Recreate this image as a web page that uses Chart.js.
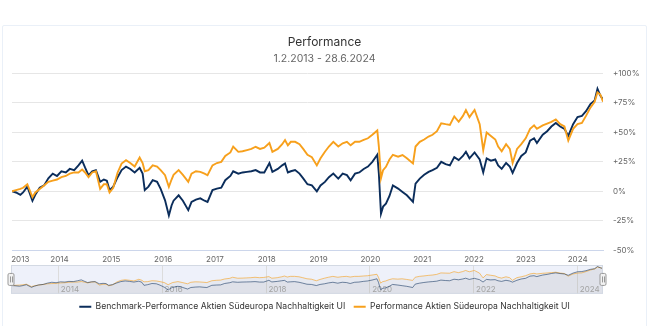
<!DOCTYPE html>
<html>
<head>
<meta charset="utf-8">
<script src="https://cdn.jsdelivr.net/npm/chart.js@4"></script>
<style>
  html, body { margin: 0; padding: 0; background: #fff; }
  body { width: 649px; height: 326px; position: relative; overflow: hidden; font-family: Inter, sans-serif; }
  .card { position: absolute; left: 2px; top: 25px; width: 643px; height: 320px; border: 1.5px solid #eaf0f8; border-radius: 2px; }
  #main { position: absolute; left: 0; top: 24px; }
  #nav { position: absolute; left: 0; top: 262px; }
</style>
</head>
<body>
<div class="card"></div>
<canvas id="main" width="649" height="241"></canvas>
<canvas id="nav" width="649" height="59"></canvas>
<script>
const titleText = 'Performance';
const subtitleText = '1.2.2013 - 28.6.2024';
const benchLabel = 'Benchmark-Performance Aktien Südeuropa Nachhaltigkeit UI';
const fundLabel = 'Performance Aktien Südeuropa Nachhaltigkeit UI';

const dates = [
  '2013-02-01','2013-03-01','2013-04-01','2013-04-20','2013-05-20','2013-06-25','2013-07-15','2013-08-15','2013-09-15','2013-10-15','2013-11-15','2013-12-15',
  '2014-01-15','2014-02-15','2014-03-15','2014-04-15','2014-05-15','2014-06-10','2014-07-01','2014-07-25','2014-08-20','2014-09-15','2014-10-15','2014-11-10','2014-12-01','2014-12-20',
  '2015-01-15','2015-02-15','2015-03-15','2015-04-15','2015-05-15','2015-06-15','2015-07-20','2015-08-10','2015-08-25','2015-09-20','2015-10-20','2015-11-20','2015-12-15',
  '2016-01-15','2016-02-11','2016-03-01','2016-03-15','2016-04-20','2016-05-20','2016-06-27','2016-07-20','2016-08-20','2016-09-20','2016-10-20','2016-11-10','2016-12-15',
  '2017-01-15','2017-02-15','2017-03-15','2017-04-20','2017-05-10','2017-06-15','2017-07-15','2017-08-15','2017-09-15','2017-10-15','2017-11-15','2017-12-15',
  '2018-01-20','2018-02-10','2018-03-20','2018-04-20','2018-05-10','2018-05-30','2018-06-20','2018-07-20','2018-08-20','2018-09-15','2018-10-15','2018-11-15','2018-12-20',
  '2019-01-15','2019-02-15','2019-03-15','2019-04-15','2019-05-20','2019-06-20','2019-07-20','2019-08-15','2019-09-15','2019-10-15','2019-11-15','2019-12-15',
  '2020-01-15','2020-02-19','2020-03-01','2020-03-16','2020-03-31','2020-04-20','2020-05-15','2020-06-08','2020-07-15','2020-08-15','2020-09-15','2020-10-28','2020-11-15','2020-12-15',
  '2021-01-15','2021-02-15','2021-03-15','2021-04-15','2021-05-15','2021-06-15','2021-07-15','2021-08-15','2021-09-15','2021-10-15','2021-11-05','2021-11-30',
  '2022-01-05','2022-02-10','2022-03-07','2022-03-31','2022-04-30','2022-05-31','2022-06-20','2022-07-15','2022-08-15','2022-09-10','2022-09-30','2022-10-31','2022-11-30','2022-12-31',
  '2023-01-31','2023-02-28','2023-03-20','2023-04-30','2023-05-31','2023-06-30','2023-07-31','2023-08-31','2023-09-30','2023-10-27','2023-11-30','2023-12-31',
  '2024-01-31','2024-02-29','2024-03-31','2024-04-30','2024-05-20','2024-06-10','2024-06-28'
];

const benchmark = [
  0, -1, -3, -1, 4, -8, -3, 3, 5, 11, 15, 13,
  17, 16, 19, 18, 22, 26, 20, 13.6, 17, 18, 8, 10, 9, 1,
  4, 12, 18, 21, 19, 16, 20, 15, 1, 4, 9.4, 8, 2,
  -7.7, -20.5, -12, -8, -3.4, -8, -16, -9, -7, -6, -8, -9, 1,
  2.3, 3, 9.4, 13, 17, 15, 16, 16.5, 17, 18, 16, 16,
  24, 16.5, 19, 22, 23.6, 16, 17, 18, 15, 11, 6, 5, 0,
  5, 8, 12, 15, 10.8, 15, 13.7, 9.4, 15, 16, 19, 21,
  25, 31, 15, -19, -13, -10.5, -4, 5, 2.3, -0.6, -3.4, -9, 6.5, 10.8,
  14, 16.5, 18, 20, 25, 23, 22, 29, 26.5, 30, 33.6, 28,
  33, 27, 16, 28, 26, 27, 22, 19, 24, 21, 15.6, 24, 30, 33,
  43, 45, 41, 48, 51, 55, 58, 55, 53, 47, 57, 63,
  64, 68, 74, 77, 87, 81, 78
];

const fund = [
  0, 1, 2, 3, 6, -5, -1, 2, 5, 8, 9, 10,
  12, 13, 15, 16, 16, 18.5, 16, 12, 16, 17, 2, 6, 6, -1,
  3, 16, 23.6, 26.4, 24, 21, 28.7, 24, 17, 18, 22, 21, 18,
  13.7, 3.7, 10, 14, 18, 14, 8, 15, 17, 16.5, 15, 13.6, 22,
  24, 25, 30, 33, 38, 33.5, 34, 35, 36, 37.8, 36, 37,
  41, 33.5, 36, 40, 43.5, 39, 42, 42, 40, 36, 31, 29, 22,
  28, 33.6, 38, 42, 38, 40.8, 42, 39, 42, 42, 43.6, 45,
  48, 51.6, 38, 11, 18, 20.8, 27, 31, 29.4, 30.8, 28, 23.6, 38, 42,
  44, 46.5, 48, 51, 57.8, 57, 56.4, 63.6, 59, 64, 69, 63,
  69, 57, 35, 50, 47, 44, 38, 34, 40, 36, 24, 36, 40, 45,
  53, 56, 53, 56, 57.5, 59, 61, 57, 55, 43, 53, 57,
  58, 64, 71, 76, 84, 82, 76
];

const yTicks = [-50, -25, 0, 25, 50, 75, 100];
const mainYears = [2013, 2014, 2015, 2016, 2017, 2018, 2019, 2020, 2021, 2022, 2023, 2024];
const navYears = [2014, 2016, 2018, 2020, 2022, 2024];

const navyColor = '#0b2d5b';
const orangeColor = '#f7a01c';
const fontFamily = 'Inter, "Noto Sans", sans-serif';

function toYear(s) {
  const [y, m, d] = s.split('-').map(Number);
  const start = Date.UTC(y, 0, 1);
  const end = Date.UTC(y + 1, 0, 1);
  return y + (Date.UTC(y, m - 1, d) - start) / (end - start);
}

const xs = dates.map(toYear);
const xMin = toYear('2013-02-01');
const xMax = toYear('2024-06-28');
const benchPts = xs.map((x, i) => ({ x: x, y: benchmark[i] }));
const fundPts = xs.map((x, i) => ({ x: x, y: fund[i] }));

function fixWidth(w) { return scale => { scale.width = w; }; }

// main chart
new Chart(document.getElementById('main'), {
  type: 'line',
  data: {
    datasets: [
      { label: fundLabel, data: fundPts, borderColor: orangeColor, borderWidth: 1.9, pointRadius: 0, tension: 0, yAxisID: 'y' },
      { label: benchLabel, data: benchPts, borderColor: navyColor, borderWidth: 1.9, pointRadius: 0, tension: 0, yAxisID: 'y' }
    ]
  },
  options: {
    responsive: false,
    animation: false,
    layout: { padding: 0 },
    plugins: {
      legend: { display: false },
      tooltip: { enabled: false },
      title: { display: true, text: titleText, color: '#333333', font: { family: fontFamily, size: 12, weight: 'normal' }, padding: { top: 10.8, bottom: 3 } },
      subtitle: { display: true, text: subtitleText, color: '#666666', font: { family: fontFamily, size: 10.5 }, padding: { top: 0, bottom: 8.7 } }
    },
    scales: {
      x: {
        type: 'linear', min: xMin, max: xMax,
        grid: { display: false, drawTicks: false },
        border: { display: true, color: '#ccd6eb' },
        afterBuildTicks: scale => {
          scale.ticks = mainYears.map(y => ({ value: y === 2013 ? xMin + 0.16 : y }));
        },
        afterFit: scale => { scale.height = 13; },
        ticks: {
          autoSkip: false, maxRotation: 0, padding: 5, color: '#666666',
          font: { family: fontFamily, size: 8 },
          callback: v => String(Math.floor(v))
        }
      },
      yl: { position: 'left', display: true, grid: { display: false, drawTicks: false }, border: { display: false }, ticks: { display: false }, afterFit: fixWidth(12) },
      y: {
        position: 'right', min: -50, max: 100,
        afterBuildTicks: scale => { scale.ticks = yTicks.map(v => ({ value: v })); },
        afterFit: fixWidth(46),
        grid: { color: '#e6e6e6', drawTicks: false },
        border: { display: false },
        ticks: {
          padding: 10, color: '#666666', font: { family: fontFamily, size: 8 },
          callback: v => (v > 0 ? '+' : '') + v + '%'
        }
      }
    }
  }
});

// navigator + legend
const navDecor = {
  id: 'navDecor',
  beforeDraw(chart) {
    const { ctx, chartArea: a } = chart;
    ctx.save();
    ctx.fillStyle = '#eef1fa';
    ctx.fillRect(a.left, a.top, a.right - a.left, a.bottom - a.top);
    ctx.restore();
  },
  afterDraw(chart) {
    const { ctx, chartArea: a } = chart;
    ctx.save();
    ctx.strokeStyle = '#d3d9e3';
    ctx.lineWidth = 1;
    ctx.strokeRect(a.left + 0.5, a.top + 0.5, a.right - a.left - 1, a.bottom - a.top - 1);
    const cy = (a.top + a.bottom) / 2;
    [a.left, a.right].forEach(hx => {
      ctx.fillStyle = '#f2f2f2';
      ctx.strokeStyle = '#999999';
      ctx.beginPath();
      ctx.roundRect(hx - 3, cy - 6, 6, 12, 1.5);
      ctx.fill();
      ctx.stroke();
      ctx.beginPath();
      ctx.moveTo(hx - 0.5, cy - 3); ctx.lineTo(hx - 0.5, cy + 3);
      ctx.moveTo(hx + 1.5, cy - 3); ctx.lineTo(hx + 1.5, cy + 3);
      ctx.stroke();
    });
    ctx.restore();
  }
};

new Chart(document.getElementById('nav'), {
  type: 'line',
  data: {
    datasets: [
      { label: benchLabel, data: benchPts, borderColor: 'rgba(11,45,91,0.55)', backgroundColor: 'rgba(140,140,140,0.08)', fill: 'start', borderWidth: 1, pointRadius: 0, tension: 0, yAxisID: 'y' },
      { label: fundLabel, data: fundPts, borderColor: 'rgba(247,160,28,0.6)', backgroundColor: 'rgba(140,140,140,0.08)', fill: 'start', borderWidth: 1, pointRadius: 0, tension: 0, yAxisID: 'y' }
    ]
  },
  options: {
    responsive: false,
    animation: false,
    layout: { padding: { top: 3 } },
    plugins: {
      tooltip: { enabled: false },
      legend: {
        position: 'bottom',
        labels: {
          usePointStyle: true, pointStyleWidth: 12, padding: 8.5,
          color: '#333333', font: { family: fontFamily, size: 8.65 },
          generateLabels: chart => chart.data.datasets.map((ds, i) => ({
            text: ds.label,
            pointStyle: 'line',
            strokeStyle: i === 0 ? navyColor : orangeColor,
            fillStyle: i === 0 ? navyColor : orangeColor,
            lineWidth: 2,
            fontColor: '#333333',
            datasetIndex: i
          }))
        }
      }
    },
    scales: {
      x: {
        type: 'linear', min: xMin, max: xMax,
        afterBuildTicks: scale => { scale.ticks = navYears.map(v => ({ value: v })); },
        afterFit: scale => { scale.height = 0; },
        grid: { color: '#dcdcdc', drawTicks: false },
        border: { display: false },
        ticks: {
          autoSkip: false, maxRotation: 0, align: 'start', mirror: true, padding: -1, color: '#a8a8a8',
          font: { family: fontFamily, size: 8 },
          callback: v => ' ' + v
        }
      },
      yl: { position: 'left', display: true, grid: { display: false, drawTicks: false }, border: { display: false }, ticks: { display: false }, afterFit: fixWidth(11) },
      y: { position: 'right', min: -38, max: 94, display: true, grid: { display: false, drawTicks: false }, border: { display: false }, ticks: { display: false }, afterFit: fixWidth(46) }
    }
  },
  plugins: [navDecor]
});
</script>
</body>
</html>
